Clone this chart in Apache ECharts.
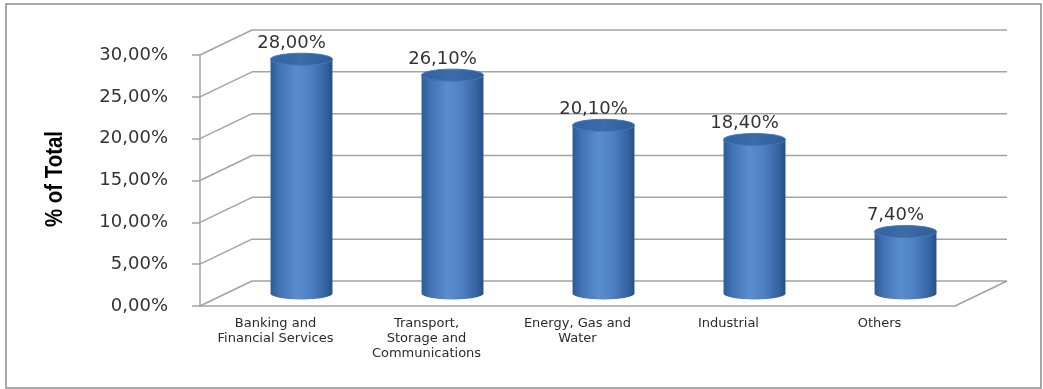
<!DOCTYPE html>
<html>
<head>
<meta charset="utf-8">
<script src="https://cdn.jsdelivr.net/npm/echarts@6/dist/echarts.min.js"></script>
<style>
html,body{margin:0;padding:0;background:#fff;}
#chart{width:1043px;height:389px;}
</style>
</head>
<body>
<div id="chart"></div>
<script>
const categories = [
  "Banking and\nFinancial Services",
  "Transport,\nStorage and\nCommunications",
  "Energy, Gas and\nWater",
  "Industrial",
  "Others"
];
const shareValues = [28.0, 26.1, 20.1, 18.4, 7.4];
const yTicks = [0, 5, 10, 15, 20, 25, 30];
const yAxisTitle = '% of Total';

const DX = 52, DY = -25;          // depth of the 3D box
const GRID_COLOR = '#A3A3A3';
const fmt = v => v.toFixed(2).replace('.', ',') + '%';

const chart = echarts.init(document.getElementById('chart'), null, {renderer: 'canvas'});

chart.setOption({
  backgroundColor: '#fff',
  animation: false,
  graphic: [
    {
      type: 'rect',
      shape: {x: 6, y: 4, width: 1035, height: 384},
      style: {fill: 'none', stroke: '#8C8C8C', lineWidth: 1.5},
      z: -10
    },
    {
      type: 'text',
      x: 55, y: 179,
      rotation: Math.PI / 2,
      scaleX: 0.85,
      style: {
        text: yAxisTitle,
        align: 'center', verticalAlign: 'middle',
        fontFamily: 'Liberation Sans', fontWeight: 'bold', fontSize: 24, fill: '#000'
      }
    }
  ],
  grid: {left: 200, right: 88, top: 55, bottom: 83, containLabel: false},
  xAxis: {
    type: 'category',
    data: categories,
    axisLine: {show: true, lineStyle: {color: GRID_COLOR, width: 1.5}},
    axisTick: {show: false},
    axisLabel: {
      interval: 0, margin: 10,
      fontFamily: 'DejaVu Sans', fontSize: 13, lineHeight: 15, color: '#2b2b2b'
    },
    splitLine: {show: false}
  },
  yAxis: {
    type: 'value',
    min: 0, max: 30, interval: 5,
    axisLine: {show: true, lineStyle: {color: GRID_COLOR, width: 1.5}},
    axisTick: {show: true, length: 8, lineStyle: {color: GRID_COLOR, width: 1.5}},
    axisLabel: {
      margin: 32, formatter: v => fmt(v),
      fontFamily: 'DejaVu Sans', fontSize: 18, color: '#333'
    },
    splitLine: {show: false}
  },
  series: [
    {
      type: 'custom',
      name: 'wall',
      clip: false,
      silent: true,
      z: 1,
      data: yTicks.map(v => [0, v]),
      renderItem: function (params, api) {
        const cs = params.coordSys;
        const left = cs.x, right = cs.x + cs.width;
        const y = api.coord([0, api.value(1)])[1];
        const ls = {stroke: GRID_COLOR, lineWidth: 1.5};
        const children = [
          {type: 'line', shape: {x1: left, y1: y, x2: left + DX, y2: y + DY}, style: ls},
          {type: 'line', shape: {x1: left + DX, y1: y + DY, x2: right + DX, y2: y + DY}, style: ls}
        ];
        if (api.value(1) === 0) {
          children.push({type: 'line', shape: {x1: right, y1: y, x2: right + DX, y2: y + DY}, style: ls});
        }
        return {type: 'group', children: children};
      }
    },
    {
      type: 'custom',
      name: 'share',
      clip: false,
      z: 3,
      data: shareValues.map((v, i) => [i, v]),
      renderItem: function (params, api) {
        const i = api.value(0), v = api.value(1);
        const base = api.coord([i, 0]);
        const top = api.coord([i, v]);
        const w = api.size([1, 0])[0] * 0.41;
        const rx = w / 2, ry = 6;
        const cx = base[0] + DX / 2;
        const yb = base[1] + DY / 2;
        const yt = top[1] + DY / 2;
        const body = {
          type: 'path',
          shape: {
            pathData: 'M' + (cx - rx) + ' ' + yt +
              ' L' + (cx - rx) + ' ' + yb +
              ' A' + rx + ' ' + ry + ' 0 0 0 ' + (cx + rx) + ' ' + yb +
              ' L' + (cx + rx) + ' ' + yt + ' Z'
          },
          style: {
            fill: new echarts.graphic.LinearGradient(0, 0, 1, 0, [
              {offset: 0, color: '#2E5B97'},
              {offset: 0.15, color: '#4273B5'},
              {offset: 0.42, color: '#5A8CD0'},
              {offset: 0.65, color: '#4F80C4'},
              {offset: 0.9, color: '#34619F'},
              {offset: 1, color: '#274E86'}
            ])
          }
        };
        const cap = {
          type: 'ellipse',
          shape: {cx: cx, cy: yt, rx: rx, ry: ry},
          style: {
            fill: new echarts.graphic.LinearGradient(0, 0, 1, 0, [
              {offset: 0, color: '#3363A2'},
              {offset: 0.5, color: '#3C6BAA'},
              {offset: 1, color: '#2F5C99'}
            ]),
            stroke: '#4677BA', lineWidth: 1
          }
        };
        const label = {
          type: 'text',
          style: {
            text: fmt(v),
            x: cx - 10, y: yt - 16,
            align: 'center', verticalAlign: 'middle',
            fontFamily: 'DejaVu Sans', fontSize: 18, fill: '#333'
          }
        };
        return {type: 'group', children: [body, cap, label]};
      }
    }
  ]
});
</script>
</body>
</html>
